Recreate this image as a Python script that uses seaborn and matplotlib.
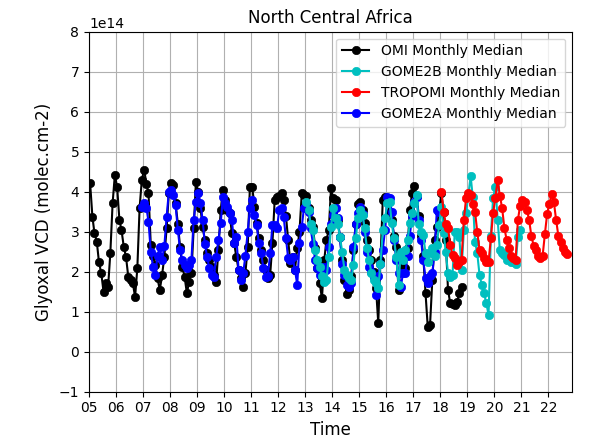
import numpy as np
import pandas as pd
import matplotlib
matplotlib.use("Agg")
import matplotlib.pyplot as plt
import matplotlib.dates as mdates
from matplotlib.ticker import MultipleLocator
import seaborn as sns

# Values in units of 1e14 molec.cm-2, monthly medians
omi_start = "2005-01"
omi_vals = [
    4.21, 3.37, 2.96, 2.75, 2.23, 1.96, 1.50, 1.71, 1.62, 2.46, 3.71, 4.42,
    4.12, 3.29, 3.04, 2.62, 2.37, 1.87, 1.79, 1.71, 1.37, 2.08, 3.60, 4.30,
    4.55, 4.20, 3.96, 2.67, 2.40, 2.17, 1.83, 1.54, 1.92, 2.37, 3.08, 3.96,
    4.21, 4.17, 3.71, 3.20, 2.62, 2.12, 1.87, 1.46, 1.75, 1.96, 3.08, 4.25,
    4.00, 3.60, 3.12, 2.80, 2.46, 2.29, 2.12, 1.92, 1.75, 2.54, 3.54, 4.04,
    3.79, 3.54, 3.46, 2.96, 2.71, 2.37, 2.04, 1.83, 1.62, 1.96, 2.62, 4.12,
    4.12, 3.62, 3.21, 2.83, 2.54, 2.29, 2.04, 1.83, 1.92, 2.71, 3.79, 3.87,
    3.90, 3.96, 3.79, 3.40, 2.79, 2.21, 2.37, 2.05, 2.58, 3.00, 3.96, 3.92,
    3.90, 3.60, 3.30, 3.12, 2.60, 2.10, 1.71, 1.33, 2.29, 2.80, 3.04, 4.08,
    3.83, 3.79, 3.29, 2.87, 2.30, 1.80, 1.45, 1.55, 1.90, 2.54, 3.20, 3.70,
    3.75, 3.54, 3.21, 2.79, 2.54, 2.30, 2.00, 1.60, 0.72, 2.29, 3.79, 3.87,
    3.80, 3.50, 3.29, 2.90, 2.62, 1.54, 2.29, 2.00, 2.10, 2.60, 3.54, 3.96,
    4.14, 3.90, 3.40, 2.90, 2.40, 1.46, 0.62, 0.67, 1.80, 2.79, 3.12, 3.50,
    3.96, 3.50, 2.79, 1.54, 1.21, 1.20, 1.17, 1.25, 1.46, 1.62,
]

gome2a_start = "2006-12"
gome2a_vals = [
    3.62,
    3.71, 3.60, 3.25, 2.50, 2.12, 1.92, 2.40, 2.62, 2.29, 2.64, 3.37, 4.00,
    4.04, 3.92, 3.67, 3.04, 2.54, 2.29, 2.17, 2.08, 2.17, 2.29, 3.30, 3.75,
    3.96, 3.71, 3.30, 2.70, 2.37, 2.08, 1.92, 1.87, 2.37, 2.79, 3.21, 3.87,
    3.71, 3.62, 3.46, 3.30, 2.71, 2.87, 2.04, 1.79, 1.96, 2.40, 3.00, 3.58,
    3.79, 3.42, 3.17, 2.71, 2.46, 2.10, 1.87, 1.90, 2.46, 3.17, 3.17, 3.08,
    3.54, 3.58, 3.37, 2.83, 2.33, 2.29, 2.37, 2.04, 1.67, 2.71, 3.12, 3.60,
    3.70, 3.50, 3.08, 2.70, 2.29, 2.10, 1.92, 2.12, 2.12, 2.04, 2.62, 3.20,
    3.42, 3.58, 3.33, 2.87, 2.20, 1.92, 1.67, 1.62, 1.71, 2.62, 3.20, 3.46,
    3.62, 3.45, 3.00, 2.50, 2.12, 2.00, 1.87, 1.42, 1.90, 2.20, 2.54, 3.04,
    3.87, 3.83, 3.50, 2.79, 2.30, 1.96, 1.62, 1.96, 1.96, 2.40, 2.90, 3.40,
    3.75, 3.87, 3.30, 2.80, 2.29, 1.83, 1.71, 1.90, 1.96, 2.50, 3.54, 3.50,
]

gome2b_start = "2013-01"
gome2b_vals = [
    3.75, 3.54, 3.20, 3.04, 2.54, 2.30, 2.12, 1.88, 1.75, 1.80, 2.37, 3.12,
    3.58, 3.33, 3.20, 2.87, 2.50, 2.04, 1.92, 1.83, 1.79, 2.17, 2.83, 3.33,
    3.54, 3.42, 3.08, 2.58, 2.29, 1.96, 1.80, 1.71, 1.58, 2.20, 3.04, 3.33,
    3.71, 3.75, 3.21, 2.83, 2.37, 1.67, 2.50, 2.29, 2.54, 2.79, 3.21, 3.46,
    3.71, 3.92, 3.20, 3.00, 2.92, 2.46, 2.25, 2.46, 2.58, 2.40, 2.67, 3.17,
    3.62, 2.96, 2.50, 1.96, 1.87, 1.92, 3.00, 3.00, 2.87, 2.04, 3.04, 3.46,
    3.92, 4.39, 3.87, 2.75, 2.46, 1.92, 1.67, 1.46, 1.21, 0.92, 2.90, 3.83,
    4.12, 3.30, 2.54, 2.46, 2.42, 2.29, 2.40, 2.25, 2.25, 2.20, 2.87, 3.04,
]

tropomi_start = "2018-01"
tropomi_vals = [
    4.00, 3.50, 3.20, 3.10, 2.67, 2.42, 2.35, 2.17, 2.25, 2.30, 3.30, 3.83,
    3.96, 3.92, 3.70, 3.50, 3.00, 2.54, 2.46, 2.33, 2.25, 2.25, 2.83, 3.46,
    3.85, 4.30, 3.90, 3.60, 3.10, 2.80, 2.60, 2.40, 2.35, 2.30, 3.30, 3.65,
    3.80, 3.75, 3.55, 3.30, 2.90, 2.65, 2.55, 2.40, 2.35, 2.40, 2.95, 3.45,
    3.70, 3.95, 3.75, 3.30, 2.90, 2.75, 2.60, 2.50, 2.45,
]

title = "North Central Africa"
xlabel = "Time"
ylabel = "Glyoxal VCD (molec.cm-2)"
scale = 1e14


def monthly(start, vals):
    dates = pd.date_range(start=start, periods=len(vals), freq="MS") + pd.Timedelta(days=14)
    return pd.DataFrame({"date": dates, "vcd": np.array(vals) * scale})


series = [
    ("OMI Monthly Median", omi_start, omi_vals, "k"),
    ("GOME2A Monthly Median", gome2a_start, gome2a_vals, "b"),
    ("GOME2B Monthly Median", gome2b_start, gome2b_vals, "c"),
    ("TROPOMI Monthly Median", tropomi_start, tropomi_vals, "r"),
]

fig, ax = plt.subplots(figsize=(5.9, 4.41), dpi=100)
fig.subplots_adjust(left=0.151, right=0.970, top=0.928, bottom=0.112)

for name, start, vals, col in series:
    df = monthly(start, vals)
    sns.lineplot(data=df, x="date", y="vcd", ax=ax, color=col, marker="o",
                 markersize=6, markeredgecolor=col, markerfacecolor=col,
                 markeredgewidth=0.5, linewidth=1.5, label=name, estimator=None)

ax.set_xlim(pd.Timestamp("2005-01-01"), pd.Timestamp("2022-11-20"))
ax.set_ylim(-1 * scale, 8 * scale)
ax.yaxis.set_major_locator(MultipleLocator(1 * scale))
ax.xaxis.set_major_locator(mdates.YearLocator())
ax.xaxis.set_major_formatter(mdates.DateFormatter("%y"))
ax.grid(True, color="#b0b0b0", linewidth=0.8)
ax.set_axisbelow(True)

ax.set_title(title, fontsize=12)
ax.set_xlabel(xlabel, fontsize=12)
ax.set_ylabel(ylabel, fontsize=12)
ax.tick_params(labelsize=10)

handles, labels = ax.get_legend_handles_labels()
order = [labels.index(l) for l in ["OMI Monthly Median", "GOME2B Monthly Median",
                                   "TROPOMI Monthly Median", "GOME2A Monthly Median"]]
ax.legend([handles[i] for i in order], [labels[i] for i in order], loc="upper right", fontsize=10)

fig.savefig("out.png", dpi=100)
